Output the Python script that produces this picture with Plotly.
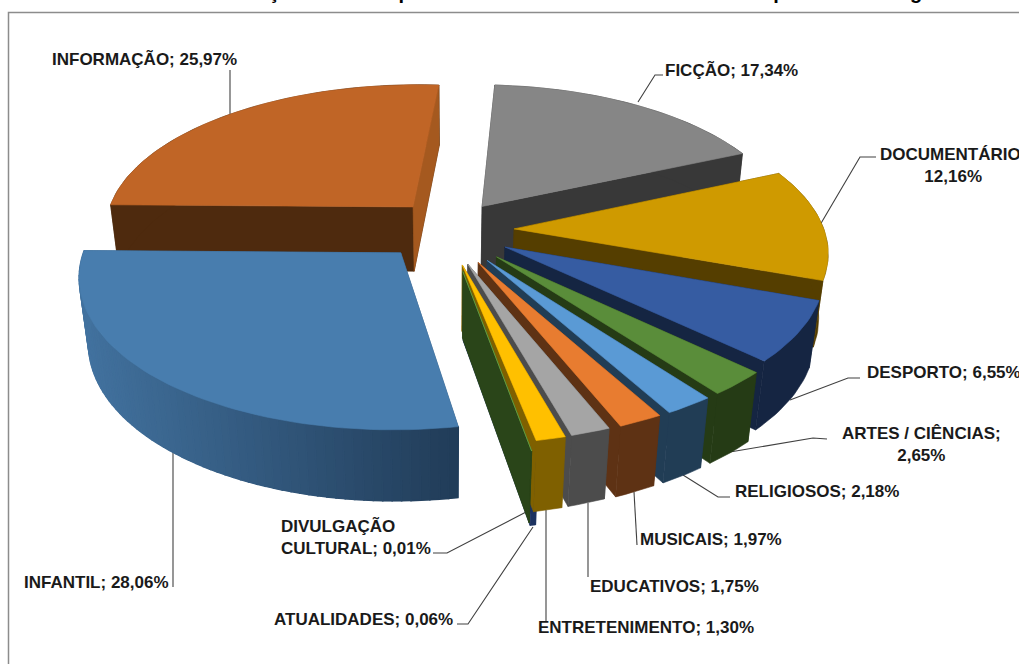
import math
import plotly.graph_objects as go

# ---- data, in reading order from the top of the pie, clockwise
categories = ["FICÇÃO", "DOCUMENTÁRIO", "DESPORTO", "ARTES / CIÊNCIAS", "RELIGIOSOS", "MUSICAIS",
              "EDUCATIVOS", "ENTRETENIMENTO", "ATUALIDADES", "DIVULGAÇÃO CULTURAL", "INFANTIL", "INFORMAÇÃO"]
shares = [17.34, 12.16, 6.55, 2.65, 2.18, 1.97, 1.75, 1.30, 0.06, 0.01, 28.06, 25.97]

# ---- styles
top_colors = ["#868686", "#CF9A00", "#365CA2", "#5A8D3A", "#5A9AD5", "#E87C30",
              "#A5A5A5", "#FFC000", "#4472C4", "#70AD47", "#487DAE", "#C06526"]
wall_colors = ["#383838", "#553E00", "#152542", "#253B15", "#213D55", "#5E3214",
               "#4C4C4C", "#7F6000", "#1C3260", "#2A4519", "#2F5478", "#4E2A0E"]
end_wall_colors = {"INFORMAÇÃO": "#A5591F"}
gradient_walls = {"INFANTIL": ("#42729F", "#213C58")}
pulls = [0.22, 0.22, 0.22, 0.22, 0.22, 0.22, 0.22, 0.22, 0.28, 0.28, 0.22, 0.22]
nudges = [(-3, 2), (-1, 0), (-1, 0), (3, 2.5), (2, 3), (1, 3), (-2, 3), (-1, 3), (0, 3), (0, 0), (-1, -2), (11, 0)]
min_span_deg = {"ATUALIDADES": 0.9}   # hairline slices keep a visible wall
draw_order = [11, 0, 1, 2, 3, 4, 5, 6, 8, 7, 9, 10]

# ---- projection
CX, CY, RX, RY, HS = 447, 230, 310, 145, 65
PERSP, SINK, START = 0.138, 0.025, 3.7


def project(x, y, d, nudge):
    p0 = 1 / (1 + PERSP * y)
    p = 1 / (1 + PERSP * y + SINK * d)
    return CX + RX * x * p + nudge[0], CY - RY * y * p0 + HS * d * math.sqrt(p0) + nudge[1]


def blend(c0, c1, t):
    a = [int(c0[i:i + 2], 16) for i in (1, 3, 5)]
    b = [int(c1[i:i + 2], 16) for i in (1, 3, 5)]
    return "rgb(%d,%d,%d)" % tuple(round(u + (v - u) * t) for u, v in zip(a, b))


fig = go.Figure()


def poly(pts, color, lw=0.6):
    xs = [q[0] for q in pts] + [pts[0][0]]
    ys = [q[1] for q in pts] + [pts[0][1]]
    fig.add_trace(go.Scatter(x=xs, y=ys, mode="lines", fill="toself", fillcolor=color,
                             line=dict(color=color, width=lw), hoverinfo="skip", showlegend=False))


angles = []
acc = START
for c, s in zip(categories, shares):
    span = max(s * 3.6, min_span_deg.get(c, 0))
    angles.append((acc, acc + span))
    acc += span

for i in draw_order:
    a0, a1 = angles[i]
    mid = math.radians((a0 + a1) / 2)
    ox, oy = pulls[i] * math.sin(mid), pulls[i] * math.cos(mid)
    n = max(2, int((a1 - a0) / 1.5))
    th = [math.radians(a0 + (a1 - a0) * k / n) for k in range(n + 1)]
    world = [(ox + math.sin(t), oy + math.cos(t)) for t in th]
    tops = [project(x, y, 0, nudges[i]) for x, y in world]
    bots = [project(x, y, 1, nudges[i]) for x, y in world]
    apex_t, apex_b = project(ox, oy, 0, nudges[i]), project(ox, oy, 1, nudges[i])
    wall = wall_colors[i]
    name = categories[i]
    # radial walls
    poly([apex_t, tops[0], bots[0], apex_b], wall)
    poly([apex_t, tops[-1], bots[-1], apex_b], wall)
    # outer wall
    if name in gradient_walls:
        c0, c1 = gradient_walls[name]
        poly(tops + bots[::-1], blend(c0, c1, 0.5))
        xl, xr = min(q[0] for q in tops), max(q[0] for q in tops)
        for k in range(n):
            t = ((tops[k][0] + tops[k + 1][0]) / 2 - xl) / (xr - xl)
            poly([tops[k], tops[k + 1], bots[k + 1], bots[k]], blend(c0, c1, t), 1.6)
    else:
        poly(tops + bots[::-1], wall)
    # a lit end wall sits in front of the outer wall's hidden part
    if name in end_wall_colors:
        poly([apex_t, tops[-1], bots[-1], apex_b], end_wall_colors[name])
    # top face
    poly([apex_t] + tops, top_colors[i])

# ---- labels
values_txt = {c: f"{v:.2f}".replace(".", ",") + "%" for c, v in zip(categories, shares)}


def label(cat, x, y, anchor="left", text=None, align="left"):
    fig.add_annotation(x=x, y=y, xref="x", yref="y", xanchor=anchor, yanchor="middle", showarrow=False,
                       align=align, text=text or f"{cat}; {values_txt[cat]}",
                       font=dict(family="Liberation Sans", size=17, color="#1A1A1A", weight=700))


label("INFORMAÇÃO", 50, 59)
label("FICÇÃO", 663, 70)
label("DOCUMENTÁRIO", 953, 165, "center", f"DOCUMENTÁRIO;<br>{values_txt['DOCUMENTÁRIO']}", "center")
label("DESPORTO", 865, 372)
label("ARTES / CIÊNCIAS", 921, 444, "center", f"ARTES / CIÊNCIAS;<br>{values_txt['ARTES / CIÊNCIAS']}", "center")
label("RELIGIOSOS", 733, 491)
label("MUSICAIS", 638, 539)
label("EDUCATIVOS", 588, 586)
label("ENTRETENIMENTO", 536, 627)
label("ATUALIDADES", 272, 619)
label("DIVULGAÇÃO CULTURAL", 279, 537, "left", f"DIVULGAÇÃO<br>CULTURAL; {values_txt['DIVULGAÇÃO CULTURAL']}")
label("INFANTIL", 22, 582)

# title: only the descenders show above the frame
fig.add_annotation(x=261, y=5, xref="x", yref="y", xanchor="left", yanchor="bottom", showarrow=False,
                   text="ição da oferta por horas de emissão em canais de TV por assunto e género",
                   font=dict(family="Liberation Sans", size=20, color="#000000", weight=700))

# ---- leader lines
leaders = [
    [(230, 70), (230, 115)],
    [(663, 75), (655, 75), (638, 102)],
    [(876, 157), (860, 157), (820, 225)],
    [(860, 378), (848, 378), (790, 400)],
    [(827, 439), (813, 438), (730, 452)],
    [(730, 497), (718, 497), (683, 475)],
    [(637, 545), (634, 492)],
    [(588, 577), (588, 503)],
    [(546, 622), (546, 510)],
    [(457, 624), (468, 624), (533, 527)],
    [(433, 553), (447, 553), (528, 511)],
    [(173, 587), (173, 452)],
]
shapes = [dict(type="rect", xref="x", yref="y", x0=8.5, y0=12.5, x1=1040, y1=690,
               line=dict(color="#8C8C8C", width=1.5), layer="below")]
for L in leaders:
    path = "M" + " L".join(f"{x},{y}" for x, y in L)
    shapes.append(dict(type="path", xref="x", yref="y", path=path, layer="below",
                       line=dict(color="#404040", width=1.1)))

fig.update_layout(width=1019, height=664, margin=dict(l=0, r=0, t=0, b=0), autosize=False,
                  paper_bgcolor="white", plot_bgcolor="white", shapes=shapes, showlegend=False,
                  xaxis=dict(range=[0, 1019], visible=False, fixedrange=True),
                  yaxis=dict(range=[664, 0], visible=False, fixedrange=True))
fig.write_html("out.html", config=dict(displayModeBar=False),
               post_script="document.body.style.margin='0';document.body.style.overflow='hidden';")
